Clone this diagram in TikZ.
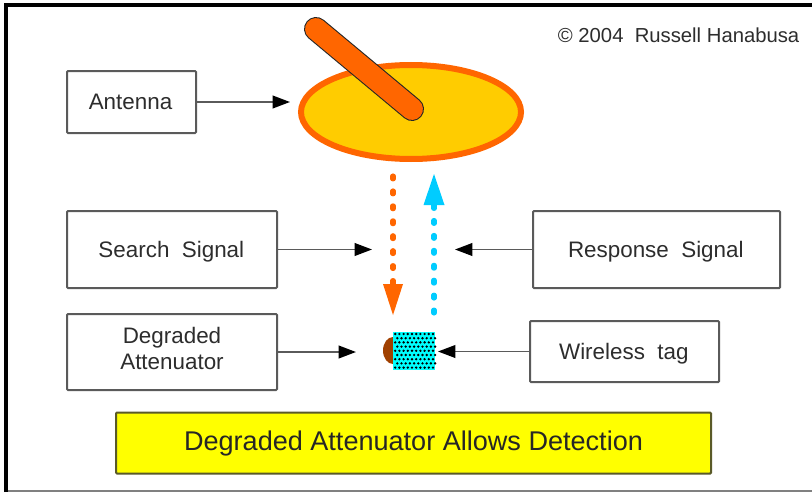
\documentclass[tikz,border=0pt]{standalone}
\usepackage{fontspec}
\setmainfont{Liberation Sans}
\usetikzlibrary{arrows.meta,shapes.geometric}
\definecolor{dishorange}{RGB}{255,102,0}
\definecolor{dishyellow}{RGB}{255,204,0}
\definecolor{replyblue}{RGB}{0,204,255}
\definecolor{tagbrown}{RGB}{160,64,0}
\definecolor{tagcyan}{RGB}{0,255,255}
\definecolor{resultyellow}{RGB}{255,255,0}
\definecolor{resultline}{RGB}{90,90,40}
\definecolor{boxline}{RGB}{90,90,90}
\definecolor{inktext}{RGB}{45,45,45}
\tikzset{
  labelbox/.style={draw=boxline,line width=1.5pt,rounded corners=0.7pt,fill=white,align=center,inner sep=0pt,text=inktext,font=\fontsize{16.8}{19.5}\selectfont},
  pointer/.style={draw=boxline,line width=1.3pt,-{Triangle[black,length=13pt,width=9.5pt]}},
  signal/.style={line width=3.8pt,dash pattern=on 2.2pt off 9pt,line cap=round},
}
\begin{document}
\begin{tikzpicture}[x=0.75pt,y=-0.75pt]
\useasboundingbox (0,0) rectangle (812,492);
\fill[white] (0,0) rectangle (812,492);
% outer frame
\draw[line width=0.8pt,gray] (6,491) -- (812,491);
\draw[line width=3pt] (6,492) -- (6,5.5) -- (812,5.5);
\node[anchor=east,text=inktext,font=\fontsize{15.2}{18}\selectfont] (credit) at (804,35) {© 2004~ Russell Hanabusa};
% dish
\node[ellipse,draw=dishorange,fill=dishyellow,line width=4.5pt,inner sep=0pt,minimum width=165pt,minimum height=70.5pt] (dish) at (411,112) {};
\coordinate (feedtop) at (316,29);
\coordinate (feedbase) at (412,109);
\draw[line width=18pt,line cap=round,black!85] (feedtop) -- (feedbase);
\draw[line width=16.4pt,line cap=round,dishorange] (feedtop) -- (feedbase);
% boxes
\node[labelbox,minimum width=96.75pt,minimum height=46.5pt] (antenna) at (131.5,102) {\hspace{-1.5pt}Antenna};
\node[labelbox,text depth=0pt,minimum width=157.5pt,minimum height=57.75pt] (search) at (172,249.5) {Search~ Signal\hspace{1pt}};
\node[labelbox,text depth=0pt,minimum width=185.25pt,minimum height=57.75pt] (response) at (656.5,249.5) {Response~ Signal\hspace{1pt}};
\node[labelbox,minimum width=157.5pt,minimum height=57pt] (degraded) at (172,352) {Degraded\\Attenuator\\[-14pt]\mbox{}};
\node[labelbox,text depth=0pt,minimum width=141.75pt,minimum height=45.75pt] (wireless) at (624.5,351.5) {Wireless~ tag\hspace{1pt}};
\node[labelbox,fill=resultyellow,draw=resultline,text=black!85,minimum width=446.25pt,minimum height=45.75pt,font=\fontsize{20.3}{24}\selectfont] (result) at (413.5,443) {Degraded Attenuator Allows Detection};
% tag
\fill[tagbrown] (393,337) arc[start angle=270,end angle=90,x radius=10,y radius=13.5] -- cycle;
\node[rectangle,fill=tagcyan,minimum width=31.5pt,minimum height=28pt,inner sep=0pt] (tag) at (414,351) {};
\foreach \row in {0,...,8} {
  \foreach \col in {0,...,9} {
    \fill[black] ({395.2+\col*4.2+mod(\row,2)*2.1},{334+\row*4.2}) circle (1pt);
  }
}
% free ends of the connectors
\coordinate (antennaend) at (290,102);
\coordinate (searchend) at (372,249.5);
\coordinate (responseend) at (455,249.5);
\coordinate (degradedend) at (356,352);
\coordinate (wirelessend) at (438,351.5);
\draw[pointer] (antenna.east) -- (antennaend);
\draw[pointer] (search.east) -- (searchend);
\draw[pointer] (response.west) -- (responseend);
\draw[pointer] (degraded.east) -- (degradedend);
\draw[pointer] (wireless.west) -- (wirelessend);
% signals
\coordinate (downstart) at (393,176);
\coordinate (downbase) at (393,284);
\coordinate (downtip) at (393,315);
\coordinate (upstart) at (434,313);
\coordinate (upbase) at (434,205);
\coordinate (uptip) at (434,174);
\draw[signal,dishorange] (downstart) -- (downbase);
\draw[signal,replyblue] (upstart) -- (upbase);
\fill[dishorange] (383,284) -- (403,284) -- (downtip) -- cycle;
\fill[replyblue] (423.5,205) -- (444.5,205) -- (uptip) -- cycle;
\end{tikzpicture}
\end{document}
